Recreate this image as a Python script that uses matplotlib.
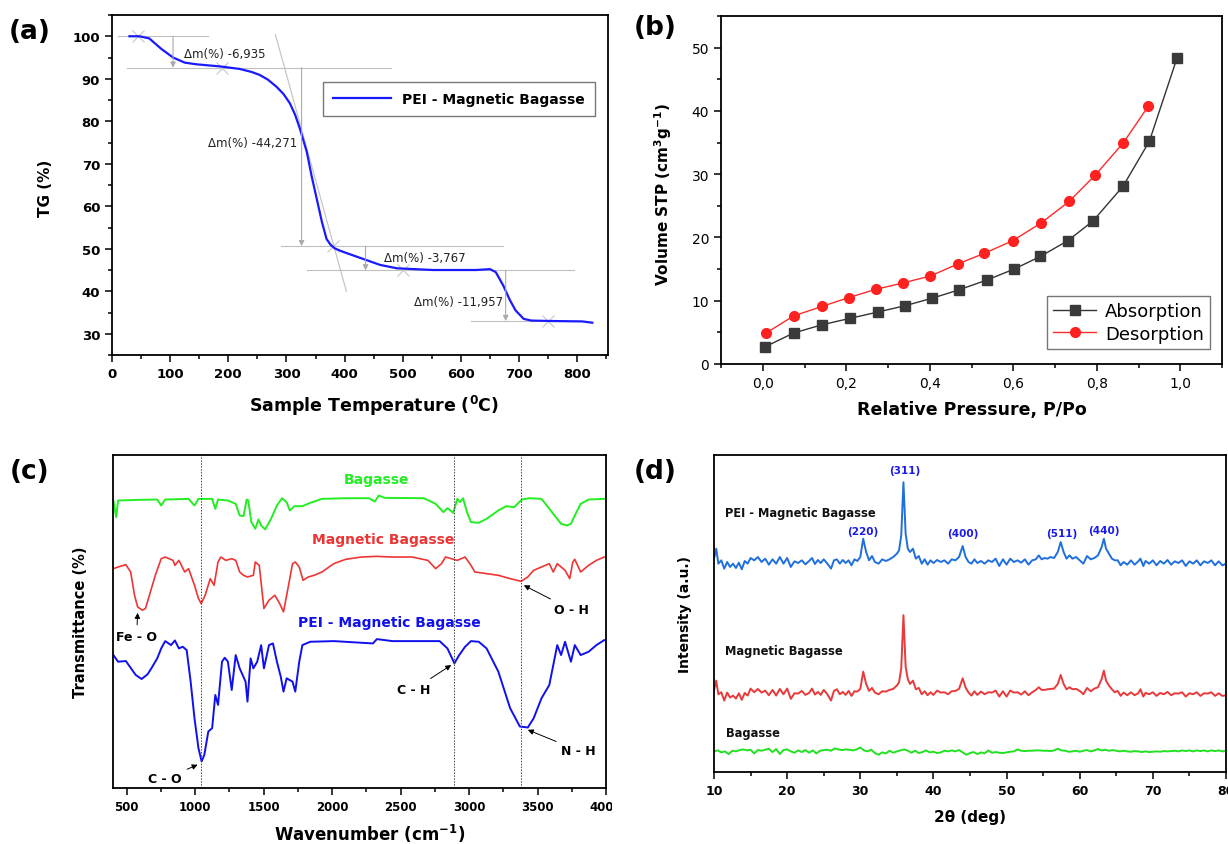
import matplotlib
matplotlib.use("Agg")
import matplotlib.pyplot as plt
from matplotlib.ticker import MultipleLocator, NullLocator
from matplotlib.transforms import Bbox, TransformedBbox

plt.rcParams['font.family'] = ['DejaVu Sans']

# ---------------- (a) TG data ----------------
tg_temp = [30, 47, 64, 85, 105, 125, 145, 186, 220, 240, 254, 268, 283, 295, 306, 315, 323,
           335, 343, 352, 361, 369, 376, 383, 393, 403, 432, 461, 490, 552, 626,
           650, 660, 673, 684, 694, 708, 721, 755, 809, 826]
tg_mass = [100, 100, 99.5, 97, 95, 93.8, 93.4, 92.9, 92.3, 91.6, 90.9, 89.8, 88.1, 86.4, 84.2, 81.5, 78.3,
           72.8, 67.3, 61.8, 56.3, 52.3, 50.9, 50.1, 49.5, 49.0, 47.6, 46.2, 45.4, 45.0, 45.0,
           45.2, 44.5, 41.3, 38.0, 35.5, 33.5, 33.1, 33.0, 32.9, 32.6]
tg_levels = [100.0, 92.6, 50.6, 44.9, 33.0]
tg_step_labels = ["\u0394m(%) -6,935", "\u0394m(%) -44,271", "\u0394m(%) -3,767", "\u0394m(%) -11,957"]
tg_step_temps = [105, 326, 436, 677]
tg_onsets = [45, 190, 380, 500, 750]

# ---------------- (b) BET data ----------------
ads_p = [0.005, 0.074, 0.142, 0.208, 0.275, 0.340, 0.406, 0.469, 0.538, 0.602, 0.665, 0.731, 0.791, 0.863, 0.926, 0.992]
ads_v = [2.7, 4.9, 6.2, 7.2, 8.2, 9.2, 10.4, 11.7, 13.3, 15.0, 17.0, 19.5, 22.6, 28.1, 35.2, 48.3]
des_p = [0.008, 0.074, 0.142, 0.206, 0.271, 0.335, 0.401, 0.467, 0.531, 0.599, 0.667, 0.734, 0.797, 0.863, 0.923]
des_v = [4.9, 7.6, 9.1, 10.5, 11.8, 12.8, 13.9, 15.8, 17.5, 19.5, 22.3, 25.7, 29.9, 34.9, 40.7]
b_xticks = [0.0, 0.2, 0.4, 0.6, 0.8, 1.0]
b_xticklabels = ["0,0", "0,2", "0,4", "0,6", "0,8", "1,0"]

# ---------------- (c) FTIR data ----------------
ftir_bag_wn = [403, 423, 437, 580, 723, 752, 781, 952, 995, 1024,
               1124, 1147, 1167, 1239, 1296, 1325, 1353, 1376, 1388, 1410,
               1439, 1462, 1482, 1511, 1554, 1597, 1634, 1668, 1691, 1725,
               1783, 1840, 1926, 2098, 2269, 2312, 2341, 2384, 2670, 2756,
               2813, 2842, 2885, 2914, 2934, 2956, 2985, 3014, 3071, 3128,
               3214, 3271, 3329, 3386, 3443, 3529, 3558, 3615, 3672, 3715,
               3744, 3772, 3815, 3873, 3987, 4000]
ftir_bag_t = [86.5, 81.5, 86.5, 86.7, 86.8, 85.0, 86.8, 87.0, 85.0, 87.0,
              87.0, 84.0, 86.8, 86.5, 85.5, 82.0, 81.8, 86.8, 86.5, 80.0,
              78.0, 80.8, 79.0, 77.8, 81.0, 85.0, 87.2, 86.0, 83.5, 84.8,
              84.8, 85.8, 87.0, 87.2, 87.2, 86.2, 88.0, 87.3, 87.2, 85.5,
              83.0, 84.2, 82.8, 87.0, 86.0, 87.2, 83.0, 80.0, 79.8, 81.0,
              83.5, 84.8, 84.5, 86.8, 87.2, 87.0, 85.5, 82.5, 79.5, 79.0,
              79.5, 82.0, 85.5, 86.8, 87.0, 87.0]
ftir_mag_wn = [403, 437, 494, 529, 557, 580, 615, 637, 666, 709,
               752, 781, 838, 852, 881, 924, 952, 995, 1024, 1044,
               1073, 1110, 1138, 1167, 1187, 1224, 1267, 1296, 1325, 1353,
               1382, 1425, 1439, 1468, 1502, 1539, 1582, 1617, 1645, 1682,
               1711, 1731, 1760, 1788, 1826, 1869, 1926, 2012, 2098, 2212,
               2327, 2441, 2584, 2699, 2756, 2799, 2828, 2871, 2914, 2971,
               3014, 3042, 3128, 3214, 3300, 3380, 3429, 3472, 3529, 3586,
               3615, 3644, 3701, 3735, 3758, 3772, 3815, 3873, 3930, 3987,
               4000]
ftir_mag_t = [66.0, 66.5, 67.2, 65.0, 58.0, 54.5, 53.5, 54.0, 58.0, 64.0,
              69.0, 69.5, 68.5, 67.0, 68.5, 65.0, 66.0, 61.0, 57.0, 55.5,
              58.0, 63.0, 61.0, 68.0, 69.5, 68.5, 69.0, 68.5, 65.0, 64.0,
              63.5, 64.0, 68.0, 67.0, 54.0, 56.5, 58.0, 55.5, 53.0, 61.0,
              67.5, 68.0, 66.5, 62.5, 63.5, 64.0, 65.0, 67.5, 68.8, 69.5,
              69.7, 69.5, 69.5, 68.5, 66.0, 67.5, 69.5, 69.0, 68.5, 69.5,
              67.0, 65.0, 64.5, 64.0, 63.0, 62.2, 63.5, 65.5, 66.5, 67.5,
              65.0, 67.5, 65.5, 63.0, 68.0, 68.8, 65.0, 67.0, 68.5, 69.5,
              69.5]
ftir_pei_wn = [403, 437, 494, 523, 566, 609, 652, 680, 723, 752,
               781, 824, 852, 881, 909, 938, 967, 995, 1024, 1047,
               1067, 1096, 1124, 1147, 1167, 1196, 1216, 1239, 1267, 1296,
               1325, 1368, 1382, 1405, 1425, 1453, 1482, 1502, 1539, 1568,
               1597, 1625, 1645, 1668, 1711, 1731, 1760, 1783, 1840, 2012,
               2298, 2327, 2441, 2785, 2842, 2893, 2928, 2971, 3014, 3071,
               3128, 3214, 3300, 3371, 3429, 3472, 3529, 3586, 3615, 3644,
               3672, 3701, 3744, 3772, 3815, 3873, 3930, 3987, 4000]
ftir_pei_t = [40.0, 38.0, 38.2, 36.5, 34.0, 32.8, 34.2, 36.0, 39.0, 42.0,
              44.2, 43.0, 44.4, 42.0, 42.5, 41.5, 32.0, 21.0, 12.0, 8.0,
              10.0, 17.0, 18.0, 28.0, 25.0, 38.0, 39.2, 38.0, 29.5, 40.0,
              36.0, 32.0, 26.0, 39.0, 36.0, 38.0, 43.0, 36.0, 43.0, 43.5,
              38.0, 33.5, 29.0, 33.0, 32.0, 29.0, 38.0, 43.0, 44.0, 44.2,
              43.5, 44.8, 44.2, 44.2, 42.0, 37.5, 40.0, 42.5, 44.2, 44.0,
              42.0, 35.0, 24.0, 18.5, 18.2, 21.0, 27.0, 31.0, 37.0, 43.0,
              40.0, 44.0, 38.0, 43.0, 40.0, 41.0, 43.0, 44.5, 44.5]
ftir_marks = [1045, 2890, 3380]
ftir_bands = ["Fe - O", "C - O", "C - H", "O - H", "N - H"]
ftir_band_tips = [(580, 52.7), (1018, 7.0), (2870, 37.0), (3400, 61.0), (3429, 17.5)]

# ---------------- (d) XRD data ----------------
xrd_x = [10.0, 10.3, 10.6, 11.0, 11.4, 11.8, 12.2, 12.6, 13.0, 13.4,
         13.8, 14.2, 14.6, 15.0, 15.5, 16.0, 16.5, 17.0, 17.5, 18.0,
         18.5, 19.0, 19.5, 20.0, 20.5, 21.0, 21.5, 22.0, 22.5, 23.0,
         23.4, 23.8, 24.2, 24.6, 25.0, 25.5, 26.0, 26.4, 26.8, 27.2,
         27.6, 28.0, 28.4, 28.8, 29.2, 29.6, 30.0, 30.4, 30.8, 31.2,
         31.6, 32.0, 32.5, 33.0, 33.5, 34.0, 34.5, 35.0, 35.3, 35.6,
         35.9, 36.2, 36.5, 36.8, 37.2, 37.6, 38.0, 38.4, 38.8, 39.2,
         39.6, 40.0, 40.5, 41.0, 41.5, 42.0, 42.5, 43.0, 43.5, 44.0,
         44.4, 44.8, 45.2, 45.6, 46.0, 46.5, 47.0, 47.5, 48.0, 48.5,
         49.0, 49.5, 50.0, 50.5, 51.0, 51.5, 52.0, 52.5, 53.0, 53.5,
         54.0, 54.4, 54.8, 55.2, 55.6, 56.0, 56.5, 57.0, 57.4, 57.8,
         58.2, 58.6, 59.0, 59.5, 60.0, 60.5, 61.0, 61.5, 62.0, 62.5,
         63.0, 63.3, 63.6, 64.0, 64.4, 64.8, 65.2, 65.6, 66.0, 66.5,
         67.0, 67.5, 68.0, 68.3, 68.7, 69.0, 69.5, 70.0, 70.5, 71.0,
         71.5, 72.0, 72.5, 73.0, 73.5, 74.0, 74.5, 75.0, 75.5, 76.0,
         76.5, 77.0, 77.5, 78.0, 78.5, 79.0, 79.5, 80.0]
xrd_pei = [1.0, 4.0, -0.5, 0.5, -2.0, 0.0, -1.5, -0.5, -1.8, -0.2,
           -2.2, 0.3, -0.5, 1.2, 0.5, 1.5, 0.0, 1.0, -0.8, 0.8,
           -0.5, 1.5, -0.5, 1.2, -1.5, 0.2, -0.3, 0.5, -0.7, 0.3,
           1.2, -0.6, 0.6, -0.3, 0.8, -0.5, -2.0, 0.5, 0.8, -0.5,
           0.6, -0.3, 0.5, -1.0, 0.8, 0.3, 1.5, 7.0, 3.0, 0.5,
           1.8, 0.0, -0.5, 0.8, 0.3, 0.8, 1.5, 2.5, 3.5, 8.0,
           24.0, 8.5, 4.0, 3.0, 4.0, 1.0, 1.8, -0.5, 0.8, -0.8,
           0.5, -0.3, 0.6, 0.0, 0.5, -0.5, 0.8, 0.5, 1.5, 4.8,
           1.5, 0.0, -0.5, 0.8, -0.3, 0.3, -0.5, 0.5, 0.0, 1.0,
           -1.2, 0.8, -0.8, 1.0, 0.0, 0.5, -0.2, 0.8, -0.8, 0.5,
           0.8, 2.0, 0.8, 1.2, 1.0, 1.5, 1.2, 3.0, 6.0, 3.0,
           1.0, 2.0, 1.0, 1.5, 0.5, -0.5, 1.8, 0.8, 1.2, 2.0,
           4.5, 7.0, 4.0, 2.5, 1.0, 0.5, 0.5, -1.0, 0.0, -0.8,
           0.5, -0.8, 0.2, 1.0, -1.2, 0.3, -0.5, 0.5, -1.0, 0.3,
           -0.5, 0.6, -0.8, 0.2, -0.3, 0.5, -1.2, 0.2, -0.5, 0.5,
           -1.0, 0.2, -0.3, 0.5, -1.0, 0.2, -1.0, -0.5]
xrd_mag = [0.8, 3.8, -0.3, 0.3, -2.2, 0.2, -1.3, -0.7, -1.6, 0.0,
           -2.0, 0.1, -0.7, 1.4, 0.3, 1.3, 0.2, 0.8, -0.6, 1.0,
           -0.7, 1.3, -0.3, 1.4, -1.7, 0.0, -0.1, 0.7, -0.5, 0.1,
           1.4, -0.4, 0.4, -0.5, 1.0, -0.3, -2.2, 0.7, 1.2, -0.3,
           0.4, -0.5, 0.7, -0.8, 0.6, 0.5, 1.3, 6.5, 2.8, 0.7,
           1.6, 0.2, -0.3, 0.6, 0.5, 1.0, 1.3, 2.3, 3.3, 7.5,
           23.5, 8.0, 4.2, 2.8, 3.8, 1.2, 1.6, -0.3, 0.6, -0.6,
           0.3, -0.5, 0.8, 0.2, 0.3, -0.3, 0.6, 0.7, 1.3, 4.5,
           1.7, 0.2, -0.7, 0.6, -0.5, 0.5, -0.3, 0.3, 0.2, 0.8,
           -1.0, 0.6, -1.0, 0.8, 0.2, 0.3, -0.4, 0.6, -0.6, 0.3,
           1.0, 1.8, 1.0, 1.0, 1.2, 1.3, 1.4, 2.8, 5.5, 2.8,
           1.2, 1.8, 1.2, 1.3, 0.7, -0.3, 1.6, 0.6, 1.4, 1.8,
           4.3, 6.8, 3.8, 2.3, 1.2, 0.3, 0.7, -0.8, 0.2, -0.6,
           0.3, -0.6, 0.0, 1.2, -1.0, 0.1, -0.3, 0.3, -0.8, 0.1,
           -0.3, 0.4, -0.6, 0.0, -0.1, 0.3, -1.0, 0.0, -0.3, 0.3,
           -0.8, 0.0, -0.1, 0.3, -0.8, 0.0, -0.8, -0.6]
xrd_bag_x = [10.0, 10.5, 11.0, 11.5, 12.0, 12.5, 13.0, 13.5, 14.0, 14.5,
             15.0, 15.5, 16.0, 16.5, 17.0, 17.5, 18.0, 18.5, 19.0, 19.5,
             20.0, 20.5, 21.0, 21.5, 22.0, 22.5, 23.0, 23.5, 24.0, 24.5,
             25.0, 25.5, 26.0, 26.5, 27.0, 27.5, 28.0, 28.5, 29.0, 29.5,
             30.0, 30.5, 31.0, 31.5, 32.0, 32.5, 33.0, 33.5, 34.0, 34.5,
             35.0, 35.5, 36.0, 36.5, 37.0, 37.5, 38.0, 38.5, 39.0, 39.5,
             40.0, 40.5, 41.0, 41.5, 42.0, 42.5, 43.0, 43.5, 44.0, 44.5,
             45.0, 45.5, 46.0, 46.5, 47.0, 47.5, 48.0, 48.5, 49.0, 49.5,
             50.0, 50.5, 51.0, 51.5, 52.0, 52.5, 53.0, 53.5, 54.0, 54.5,
             55.0, 55.5, 56.0, 56.5, 57.0, 57.5, 58.0, 58.5, 59.0, 59.5,
             60.0, 60.5, 61.0, 61.5, 62.0, 62.5, 63.0, 63.5, 64.0, 64.5,
             65.0, 65.5, 66.0, 66.5, 67.0, 67.5, 68.0, 68.5, 69.0, 69.5,
             70.0, 70.5, 71.0, 71.5, 72.0, 72.5, 73.0, 73.5, 74.0, 74.5,
             75.0, 75.5, 76.0, 76.5, 77.0, 77.5, 78.0, 78.5, 79.0, 79.5,
             80.0]
xrd_bag = [0.0, 0.3, -0.3, 0.0, -0.8, 0.2, 0.0, 0.4, 0.6, 0.3,
           0.5, -0.6, 0.4, 0.2, 0.5, 0.8, -0.2, 0.7, -0.8, 0.4,
           0.6, 0.0, -0.4, 0.3, -0.2, 0.4, -0.4, 0.3, -0.6, 0.2,
           0.4, 0.5, 0.2, 0.9, 0.6, 0.4, 0.6, 0.5, 0.3, 0.6,
           1.2, 0.3, 0.0, 0.5, -0.5, -1.0, -0.3, -0.6, 0.2, -0.4,
           0.0, 0.3, 0.6, 0.2, -0.4, 0.2, -0.5, -0.2, 0.3, -0.3,
           -0.1, -0.5, -0.3, 0.2, 0.0, 0.3, 0.0, 0.4, -0.3, -1.0,
           -0.5, -0.2, -0.8, -0.3, -0.6, 0.3, -0.4, -0.2, -0.4, -0.5,
           -0.3, -0.1, 0.0, 0.6, 0.2, 0.1, 0.2, 0.2, 0.3, 0.3,
           0.2, 0.2, 0.1, 0.3, 0.8, 0.3, 0.2, -0.1, 0.0, 0.2,
           -0.1, 0.2, 0.4, 0.0, 0.3, 0.7, 0.3, 0.5, 0.2, 0.4,
           0.2, 0.0, 0.2, 0.0, -0.1, 0.1, 0.0, -0.2, 0.0, -0.2,
           -0.1, 0.0, -0.1, 0.1, 0.0, 0.1, 0.2, 0.0, 0.3, 0.1,
           0.3, 0.0, 0.3, 0.1, 0.3, 0.0, 0.3, 0.1, 0.3, 0.0,
           0.2]
xrd_names = ["PEI - Magnetic Bagasse", "Magnetic Bagasse", "Bagasse"]
xrd_peaks = ["(220)", "(311)", "(400)", "(511)", "(440)"]
xrd_peak_pos = [30.3, 36.1, 44.0, 57.6, 63.3]

# ---------------- figure ----------------
W, H = 1228, 845
fig = plt.figure(figsize=(W / 100, H / 100), dpi=100)


def px_axes(l, t, r, b):
    return fig.add_axes([l / W, 1 - b / H, (r - l) / W, (b - t) / H])


def style(ax, bold=True, size=9.5):
    for s in ax.spines.values():
        s.set_linewidth(1.3)
    ax.tick_params(which='both', direction='out', top=False, right=False, width=1.1, labelsize=size)
    ax.tick_params(which='major', length=5)
    ax.tick_params(which='minor', length=3)
    if bold:
        for lab in ax.get_xticklabels() + ax.get_yticklabels():
            lab.set_fontweight('bold')


# ===== (a) =====
axa = px_axes(112, 16, 608, 356)
axa.plot(tg_temp, tg_mass, color='#1a1aff', lw=1.6, label='PEI - Magnetic Bagasse', zorder=3)
gray = '#c0c0c0'
axa.plot([10, 165], [tg_levels[0]] * 2, color=gray, lw=0.8)
axa.plot([25, 480], [tg_levels[1]] * 2, color=gray, lw=0.8)
axa.plot([290, 672], [tg_levels[2]] * 2, color=gray, lw=0.8)
axa.plot([335, 795], [tg_levels[3]] * 2, color=gray, lw=0.8)
axa.plot([617, 760], [tg_levels[4]] * 2, color=gray, lw=0.8)
axa.plot([281, 403], [100.4, 40.0], color=gray, lw=0.8)
for i, t in enumerate(tg_step_temps):
    axa.annotate('', xy=(t, tg_levels[i + 1]), xytext=(t, tg_levels[i]),
                 arrowprops=dict(arrowstyle='-|>', color='#aaaaaa', lw=0.8,
                                 shrinkA=0, shrinkB=0, mutation_scale=8))
axa.plot(tg_onsets, tg_levels, linestyle='none', marker='x', markersize=8,
         color='#cccccc', mew=0.9)
txt_kw = dict(fontsize=8.5, color='#222222', va='center')
axa.text(123, 96.0, tg_step_labels[0], ha='left', **txt_kw)
axa.text(319, 74.9, tg_step_labels[1], ha='right', **txt_kw)
axa.text(467, 48.0, tg_step_labels[2], ha='left', **txt_kw)
axa.text(673, 37.7, tg_step_labels[3], ha='right', **txt_kw)
axa.set_xlim(0, 853)
axa.set_ylim(25, 105)
axa.xaxis.set_major_locator(MultipleLocator(100))
axa.xaxis.set_minor_locator(MultipleLocator(50))
axa.yaxis.set_major_locator(MultipleLocator(10))
axa.yaxis.set_minor_locator(MultipleLocator(5))
style(axa, True, 9.5)
leg = axa.legend(loc='upper right', bbox_to_anchor=(0.973, 0.802), borderaxespad=0,
                 fancybox=False, edgecolor='#777777', handlelength=4.2,
                 prop=dict(weight='bold', size=10), borderpad=0.7, framealpha=1)
leg.get_frame().set_linewidth(1.0)
axa.set_xlabel(r'Sample Temperature ($^{\mathbf{0}}$C)', fontsize=12.5, fontweight='bold')
axa.xaxis.set_label_coords(0.528, -0.147)
axa.xaxis.label.set_va('center')
axa.set_ylabel('TG (%)', fontsize=11, fontweight='bold')
axa.yaxis.set_label_coords(-0.135, 0.494)
axa.yaxis.label.set_va('center')

# ===== (b) =====
axb = px_axes(721, 17, 1222, 365)
axb.plot(ads_p, ads_v, color='#333333', lw=1.0, marker='s', markersize=6.5,
         markerfacecolor='#3a3a3a', markeredgecolor='#3a3a3a', label='Absorption')
axb.plot(des_p, des_v, color='#ff2a2a', lw=1.0, marker='o', markersize=7,
         markerfacecolor='#ff2020', markeredgecolor='#ff2020', label='Desorption')
axb.set_xlim(-0.1, 1.1)
axb.set_ylim(0, 55)
axb.set_xticks(b_xticks, b_xticklabels)
axb.xaxis.set_minor_locator(MultipleLocator(0.1))
axb.yaxis.set_major_locator(MultipleLocator(10))
axb.yaxis.set_minor_locator(MultipleLocator(5))
style(axb, False, 10)
legb = axb.legend(loc='lower right', bbox_to_anchor=(0.977, 0.043), borderaxespad=0,
                  fancybox=False, edgecolor='#777777', handlelength=2.4, fontsize=13,
                  borderpad=0.35, labelspacing=0.25, handletextpad=0.5, framealpha=1)
legb.get_frame().set_linewidth(1.0)
axb.set_xlabel('Relative Pressure, P/Po', fontsize=12.5, fontweight='bold')
axb.xaxis.set_label_coords(0.50, -0.129)
axb.xaxis.label.set_va('center')
axb.set_ylabel(r'Volume STP (cm$^{\mathbf{3}}$g$^{\mathbf{-1}}$)', fontsize=11, fontweight='bold')
axb.yaxis.set_label_coords(-0.116, 0.49)
axb.yaxis.label.set_va('center')

# ===== (c) =====
axc = px_axes(113, 456, 606, 789)
c_green, c_red, c_blue = '#22ee22', '#ee3535', '#1010ee'
axc.plot(ftir_bag_wn, ftir_bag_t, color=c_green, lw=1.4)
axc.plot(ftir_mag_wn, ftir_mag_t, color=c_red, lw=1.2)
axc.plot(ftir_pei_wn, ftir_pei_t, color=c_blue, lw=1.4)
for m in ftir_marks:
    axc.axvline(m, color='#444444', lw=0.7, linestyle=(0, (1.5, 1.5)))
axc.set_xlim(400, 4000)
axc.set_ylim(0, 100.2)
axc.yaxis.set_major_locator(NullLocator())
axc.xaxis.set_major_locator(MultipleLocator(500))
axc.xaxis.set_minor_locator(MultipleLocator(250))
style(axc, True, 8.5)
lab_kw = dict(fontsize=10, fontweight='bold', ha='center', va='center')
axc.text(2327, 93.0, 'Bagasse', color=c_green, **lab_kw)
axc.text(2370, 75.0, 'Magnetic Bagasse', color=c_red, **lab_kw)
axc.text(2420, 50.0, 'PEI - Magnetic Bagasse', color=c_blue, **lab_kw)
band_text_pos = [(572, 45.5), (780, 2.8), (2598, 29.7), (3744, 53.7), (3801, 11.2)]
for name, tip, pos in zip(ftir_bands, ftir_band_tips, band_text_pos):
    axc.annotate(name, xy=tip, xytext=pos, fontsize=9, fontweight='bold',
                 ha='center', va='center',
                 arrowprops=dict(arrowstyle='-|>', color='black', lw=0.7,
                                 shrinkA=2, shrinkB=0, mutation_scale=8))
axc.set_xlabel(r'Wavenumber (cm$^{\mathbf{-1}}$)', fontsize=12, fontweight='bold')
axc.xaxis.set_label_coords(0.52, -0.135)
axc.xaxis.label.set_va('center')
axc.set_ylabel('Transmittance (%)', fontsize=10.5, fontweight='bold')
axc.yaxis.set_label_coords(-0.065, 0.50)
axc.yaxis.label.set_va('center')
clip = TransformedBbox(Bbox([[0, 0], [612 / W, 1]]), fig.transFigure)
for lab in axc.get_xticklabels():
    lab.set_clip_box(clip)
    lab.set_clip_on(True)

# ===== (d) =====
axd = px_axes(714, 456, 1226, 773)
off_pei, off_mag, off_bag = 63.2, 23.7, 6.2
axd.plot(xrd_x, [v + off_pei for v in xrd_pei], color='#1f6fdc', lw=1.4)
axd.plot(xrd_x, [v + off_mag for v in xrd_mag], color='#e83a3a', lw=1.4)
axd.plot(xrd_bag_x, [v + off_bag for v in xrd_bag], color='#22e022', lw=1.4)
axd.set_xlim(10, 80)
axd.set_ylim(0, 95.4)
axd.yaxis.set_major_locator(NullLocator())
axd.xaxis.set_major_locator(MultipleLocator(10))
axd.xaxis.set_minor_locator(MultipleLocator(5))
style(axd, True, 9)
name_kw = dict(fontsize=8.3, fontweight='bold', ha='left', va='center', color='#111111')
axd.text(11.5, 78.2, xrd_names[0], **name_kw)
axd.text(11.5, 36.7, xrd_names[1], **name_kw)
axd.text(11.7, 12.0, xrd_names[2], **name_kw)
peak_y = [72.5, 90.9, 72.0, 72.0, 72.9]
for lbl, xp, yp in zip(xrd_peaks, xrd_peak_pos, peak_y):
    axd.text(xp, yp, lbl, fontsize=7.5, fontweight='bold', color='#1a1aee',
             ha='center', va='center')
axd.set_xlabel('2\u03b8 (deg)', fontsize=11, fontweight='bold')
axd.xaxis.set_label_coords(0.50, -0.139)
axd.xaxis.label.set_va('center')
axd.set_ylabel('Intensity (a.u.)', fontsize=10, fontweight='bold')
axd.yaxis.set_label_coords(-0.057, 0.50)
axd.yaxis.label.set_va('center')

# panel letters
for letter, (px, py) in zip(['(a)', '(b)', '(c)', '(d)'],
                            [(30, 32), (655, 28), (30, 472), (655, 472)]):
    fig.text(px / W, 1 - py / H, letter, fontsize=19, fontweight='bold',
             ha='center', va='center')

fig.savefig('out.png', dpi=100)
